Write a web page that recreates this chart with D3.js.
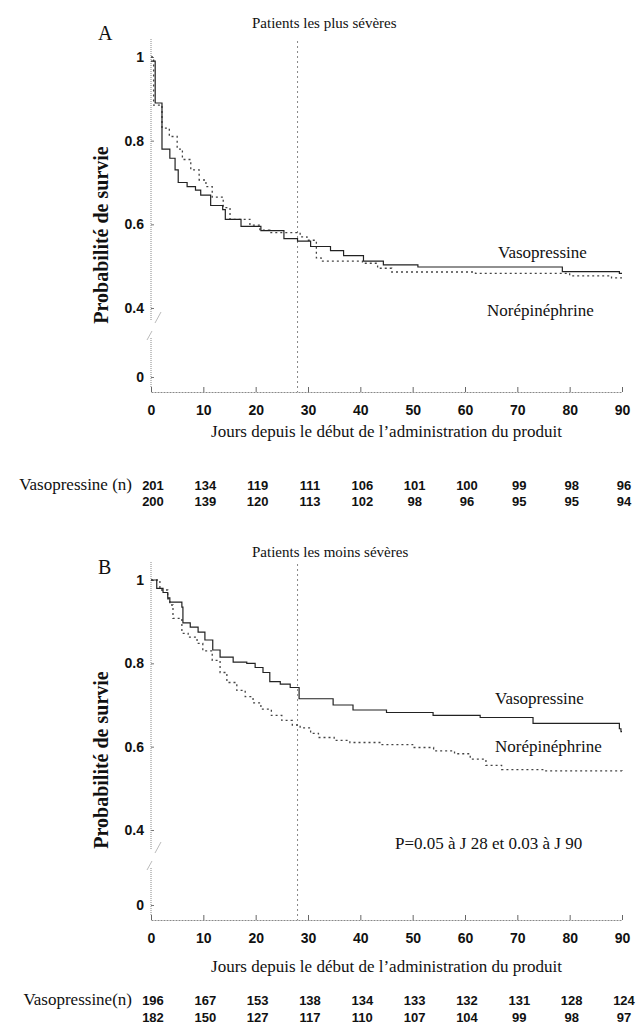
<!DOCTYPE html>
<html>
<head>
<meta charset="utf-8">
<script src="https://cdn.jsdelivr.net/npm/d3@7"></script>
<style>
  body { margin: 0; background: #fff; }
  svg text { font-family: "Liberation Serif", "Times New Roman", serif; fill: #111; }
  svg .num { font-family: "Liberation Sans", Arial, sans-serif; font-weight: bold; }
</style>
</head>
<body>
<svg id="chart" width="636" height="1027"></svg>
<script>
// Kaplan-Meier steps: [jour, probabilite de survie]
var vasoA = [[0,0.99],[0.8,0.89],[2.1,0.78],[3.6,0.758],[4.6,0.73],[5.2,0.70],[6.9,0.69],[8.5,0.682],[9.5,0.67],
  [11.4,0.645],[13.7,0.635],[14.2,0.612],[17.2,0.595],[21,0.585],[25.4,0.566],[28,0.56],[30.5,0.547],[34.3,0.537],
  [36.8,0.525],[40.6,0.512],[44.4,0.503],[51,0.498],[78.6,0.487],[89.5,0.483],[90,0.483]];
var noreA = [[0,1],[0.5,0.885],[2.1,0.83],[3.5,0.81],[5,0.78],[6,0.755],[7.6,0.73],[9.2,0.706],[10.5,0.69],
  [11.7,0.665],[13.8,0.64],[15.1,0.612],[18.9,0.598],[20.8,0.586],[22.7,0.58],[28.5,0.57],[29.8,0.562],
  [31.6,0.52],[32.5,0.512],[40.4,0.507],[43.3,0.495],[46,0.486],[62,0.483],[80,0.477],[88,0.472],[90,0.472]];
var vasoB = [[0,1],[1.1,0.98],[2.3,0.97],[3.2,0.957],[3.6,0.947],[5.9,0.935],[6.1,0.897],[7.5,0.887],[9,0.875],
  [10.3,0.856],[11.8,0.832],[13.2,0.815],[15.7,0.803],[18.3,0.80],[19.9,0.79],[21.4,0.778],[22.7,0.756],
  [24.7,0.75],[26.6,0.742],[28.3,0.715],[34.8,0.70],[38.6,0.688],[45,0.682],[53.9,0.675],[62.9,0.67],
  [73,0.656],[89.5,0.643],[89.8,0.636],[90,0.636]];
var noreB = [[0,1],[1.7,0.976],[3.2,0.955],[3.6,0.94],[4.2,0.908],[5.9,0.872],[7.1,0.863],[8.8,0.848],[9.9,0.83],
  [11.7,0.807],[13.2,0.778],[14.5,0.754],[16.4,0.735],[18,0.72],[19.5,0.705],[21,0.69],[23,0.675],[25,0.663],
  [27,0.652],[28.5,0.645],[30.5,0.632],[32,0.622],[35,0.615],[38,0.61],[44,0.605],[50,0.598],[54,0.59],
  [58,0.583],[61,0.57],[64,0.555],[67,0.545],[75,0.542],[90,0.54]];

// patients a risque (n) aux jours 0,10,...,90
var riskVasoA = [201,134,119,111,106,101,100,99,98,96];
var riskNoreA = [200,139,120,113,102,98,96,95,95,94];
var riskVasoB = [196,167,153,138,134,133,132,131,128,124];
var riskNoreB = [182,150,127,117,110,107,104,99,98,97];

var dayTicks = [0,10,20,30,40,50,60,70,80,90];
var probTicks = [0,0.4,0.6,0.8,1];
var jourRef = 28;

var svg = d3.select('#chart');
var x = d3.scaleLinear().domain([0, 90]).range([151, 622]);

var panels = [
  { letter: 'A', title: 'Patients les plus sévères', vaso: vasoA, nore: noreA,
    riskV: riskVasoA, riskN: riskNoreA, rowLabel: 'Vasopressine (n)',
    yr: [377, 308, 57], brk: [320, 338], axisY: 392, titleY: 28, letterY: 40, ylabY: 235,
    xlabY: 437, rowY: [490, 506], vasoLab: [498, 258], noreLab: [487, 316] },
  { letter: 'B', title: 'Patients les moins sévères', vaso: vasoB, nore: noreB,
    riskV: riskVasoB, riskN: riskNoreB, rowLabel: 'Vasopressine(n)',
    yr: [905, 830, 580], brk: [850, 868], axisY: 920, titleY: 557, letterY: 574, ylabY: 760,
    xlabY: 972, rowY: [1005, 1022], vasoLab: [495, 704], noreLab: [495, 752],
    note: 'P=0.05 à J 28 et 0.03 à J 90', noteXY: [395, 849] }
];

panels.forEach(function(p) {
  var y = d3.scaleLinear().domain([0, 0.4, 1]).range(p.yr);
  var g = svg.append('g');

  // axes: dotted grey lines, small ticks pointing inward
  var yAxis = d3.axisLeft(y).tickValues(probTicks)
    .tickFormat(function(d) { return d === 0 || d === 1 ? d : d.toFixed(1); })
    .tickSizeInner(-3).tickSizeOuter(0).tickPadding(7);
  var ya = g.append('g').attr('transform', 'translate(' + x(0) + ',0)').call(yAxis);
  ya.select('.domain').remove();
  ya.selectAll('.tick line').attr('stroke', '#777');
  ya.selectAll('.tick text').attr('class', 'num').style('font-size', '14px');

  // y axis line with a break between 0 and 0.4
  g.append('line').attr('x1', x(0)).attr('x2', x(0))
    .attr('y1', y(1) - 18).attr('y2', p.brk[0])
    .attr('stroke', '#888').attr('stroke-dasharray', '1,1');
  g.append('line').attr('x1', x(0)).attr('x2', x(0))
    .attr('y1', p.brk[1]).attr('y2', p.axisY - 4)
    .attr('stroke', '#888').attr('stroke-dasharray', '1,1');
  [[-4, p.brk[1] + 2, 1, p.brk[1] - 7], [4, p.brk[0] + 3, 10, p.brk[0] - 8]].forEach(function(b) {
    g.append('line').attr('x1', x(0) + b[0]).attr('y1', b[1]).attr('x2', x(0) + b[2]).attr('y2', b[3])
      .attr('stroke', '#bbb').attr('stroke-width', 1);
  });

  var xAxis = d3.axisBottom(x).tickValues(dayTicks).tickSizeInner(-5).tickSizeOuter(0).tickPadding(13);
  var xa = g.append('g').attr('transform', 'translate(0,' + p.axisY + ')').call(xAxis);
  xa.select('.domain').attr('stroke', '#888').attr('stroke-dasharray', '2,1');
  xa.selectAll('.tick line').attr('stroke', '#666');
  xa.selectAll('.tick text').attr('class', 'num').style('font-size', '14px');

  // jour 28 reference line
  g.append('line').attr('x1', x(jourRef)).attr('x2', x(jourRef))
    .attr('y1', y(1) - 16).attr('y2', p.axisY)
    .attr('stroke', '#888').attr('stroke-dasharray', '2,3');

  var line = d3.line().curve(d3.curveStepAfter)
    .x(function(d) { return x(d[0]); })
    .y(function(d) { return y(d[1]); });

  g.append('path').datum(p.nore).attr('d', line)
    .attr('fill', 'none').attr('stroke', '#444').attr('stroke-width', 1.3)
    .attr('stroke-dasharray', '2,3');
  g.append('path').datum(p.vaso).attr('d', line)
    .attr('fill', 'none').attr('stroke', '#222').attr('stroke-width', 1.2);

  // texts
  g.append('text').attr('x', 252).attr('y', p.titleY).style('font-size', '15px').text(p.title);
  g.append('text').attr('x', 98).attr('y', p.letterY).style('font-size', '20px').text(p.letter);
  g.append('text').attr('transform', 'translate(108,' + p.ylabY + ') rotate(-90)')
    .attr('text-anchor', 'middle').style('font-size', '20px').style('font-weight', 'bold')
    .text('Probabilité de survie');
  g.append('text').attr('x', x(45)).attr('y', p.xlabY).attr('text-anchor', 'middle')
    .style('font-size', '17px').text('Jours depuis le début de l\u2019administration du produit');
  g.append('text').attr('x', p.vasoLab[0]).attr('y', p.vasoLab[1]).style('font-size', '17px').text('Vasopressine');
  g.append('text').attr('x', p.noreLab[0]).attr('y', p.noreLab[1]).style('font-size', '17px').text('Norépinéphrine');
  if (p.note) {
    g.append('text').attr('x', p.noteXY[0]).attr('y', p.noteXY[1]).style('font-size', '17px').text(p.note);
  }

  // numbers at risk
  g.append('text').attr('x', 132).attr('y', p.rowY[0]).attr('text-anchor', 'end')
    .style('font-size', '17px').text(p.rowLabel);
  [p.riskV, p.riskN].forEach(function(row, i) {
    g.selectAll('.risk' + i).data(row).enter().append('text')
      .attr('class', 'num')
      .attr('x', function(d, j) { return x(dayTicks[j]) + 2; })
      .attr('y', p.rowY[i]).attr('text-anchor', 'middle')
      .style('font-size', '13px')
      .text(function(d) { return d; });
  });
});
</script>
</body>
</html>
